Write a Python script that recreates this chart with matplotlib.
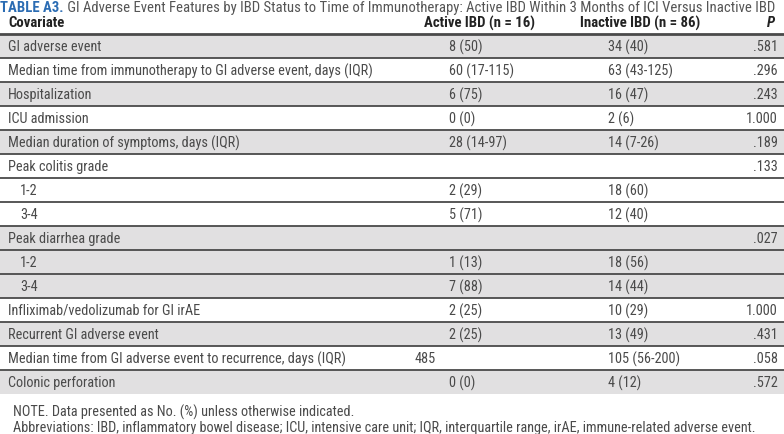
import matplotlib.pyplot as plt

# table content
covariates = ['GI adverse event',
              'Median time from immunotherapy to GI adverse event, days (IQR)',
              'Hospitalization', 'ICU admission',
              'Median duration of symptoms, days (IQR)',
              'Peak colitis grade', '1-2', '3-4',
              'Peak diarrhea grade', '1-2', '3-4',
              'Infliximab/vedolizumab for GI irAE',
              'Recurrent GI adverse event',
              'Median time from GI adverse event to recurrence, days (IQR)',
              'Colonic perforation']
active = ['8 (50)', '60 (17-115)', '6 (75)', '0 (0)', '28 (14-97)', '',
          '2 (29)', '5 (71)', '', '1 (13)', '7 (88)', '2 (25)', '2 (25)',
          '485', '0 (0)']
inactive = ['34 (40)', '63 (43-125)', '16 (47)', '2 (6)', '14 (7-26)', '',
            '18 (60)', '12 (40)', '', '18 (56)', '14 (44)', '10 (29)',
            '13 (49)', '105 (56-200)', '4 (12)']
pvals = ['.581', '.296', '.243', '1.000', '.189', '.133', '', '', '.027',
         '', '', '1.000', '.431', '.058', '.572']
shaded = [1, 0, 1, 0, 1, 0, 0, 0, 1, 1, 1, 0, 1, 0, 1]
indented = [0, 0, 0, 0, 0, 0, 1, 1, 0, 1, 1, 0, 0, 0, 0]
headers = ['Covariate', 'Active IBD (n = 16)', 'Inactive IBD (n = 86)', 'P']

title_bold = 'TABLE A3.'
title_rest = (' GI Adverse Event Features by IBD Status to Time of Immunotherapy: '
              'Active IBD Within 3 Months of ICI Versus Inactive IBD')
notes = ['NOTE. Data presented as No. (%) unless otherwise indicated.',
         'Abbreviations: IBD, inflammatory bowel disease; ICU, intensive care unit; '
         'IQR, interquartile range, irAE, immune-related adverse event.']

fonts = ['Liberation Sans Narrow', 'Roboto Condensed', 'DejaVu Sans']
plt.rcParams['font.family'] = fonts

txt = '#4a4a4a'
grey = '#e1e0e1'
line = '#4a4a4a'
blue = '#2b6cb3'

fig = plt.figure(figsize=(7.84, 4.35), dpi=100)
ax = fig.add_axes([0, 0, 1, 1])
ax.set_xlim(0, 784)
ax.set_ylim(435, 0)
ax.axis('off')

top = 35
rh = 24
n = len(covariates)
ys = [top + rh * i + rh / 2 for i in range(n)]

# row shading
ax.barh(ys, [784] * n, height=rh, left=0,
        color=[grey if s else 'white' for s in shaded], zorder=0)

# row rules
for i in range(n - 1):
    ax.axhline(top + rh * (i + 1), color=line, lw=1.3, zorder=1)
ax.axhline(top, color=line, lw=2.0, zorder=1)

# title
tfs = 10.6
t = ax.text(0, 8, title_bold, color=blue, fontsize=tfs, fontweight='bold',
            va='center', ha='left')
ax.annotate(title_rest, xy=(1, 0.5), xycoords=t, va='center', ha='left',
            color='#555555', fontsize=tfs)

# header
hy = 23
hfs = 10.6
ax.text(8, hy, headers[0], fontsize=hfs, fontweight='bold', color='#222222',
        va='center', ha='left')
ax.text(480, hy, headers[1], fontsize=hfs, fontweight='bold', color='#222222',
        va='center', ha='center')
ax.text(640, hy, headers[2], fontsize=hfs, fontweight='bold', color='#222222',
        va='center', ha='center')
ax.text(775, hy, headers[3], fontsize=hfs, fontweight='bold', style='italic',
        color='#222222', va='center', ha='right')

fs = 10.3
for i, y in enumerate(ys):
    ax.text(20 if indented[i] else 8, y, covariates[i], fontsize=fs,
            color=txt, va='center', ha='left')
    ax.text(415 if active[i] == '485' else 449, y, active[i], fontsize=fs,
            color=txt, va='center', ha='left')
    ax.text(608, y, inactive[i], fontsize=fs, color=txt, va='center', ha='left')
    ax.text(778, y, pvals[i], fontsize=fs, color=txt, va='center', ha='right')

ax.text(13, 412, notes[0], fontsize=fs, color=txt, va='center', ha='left')
ax.text(13, 428, notes[1], fontsize=fs, color=txt, va='center', ha='left')

fig.savefig('out.png', dpi=100)
